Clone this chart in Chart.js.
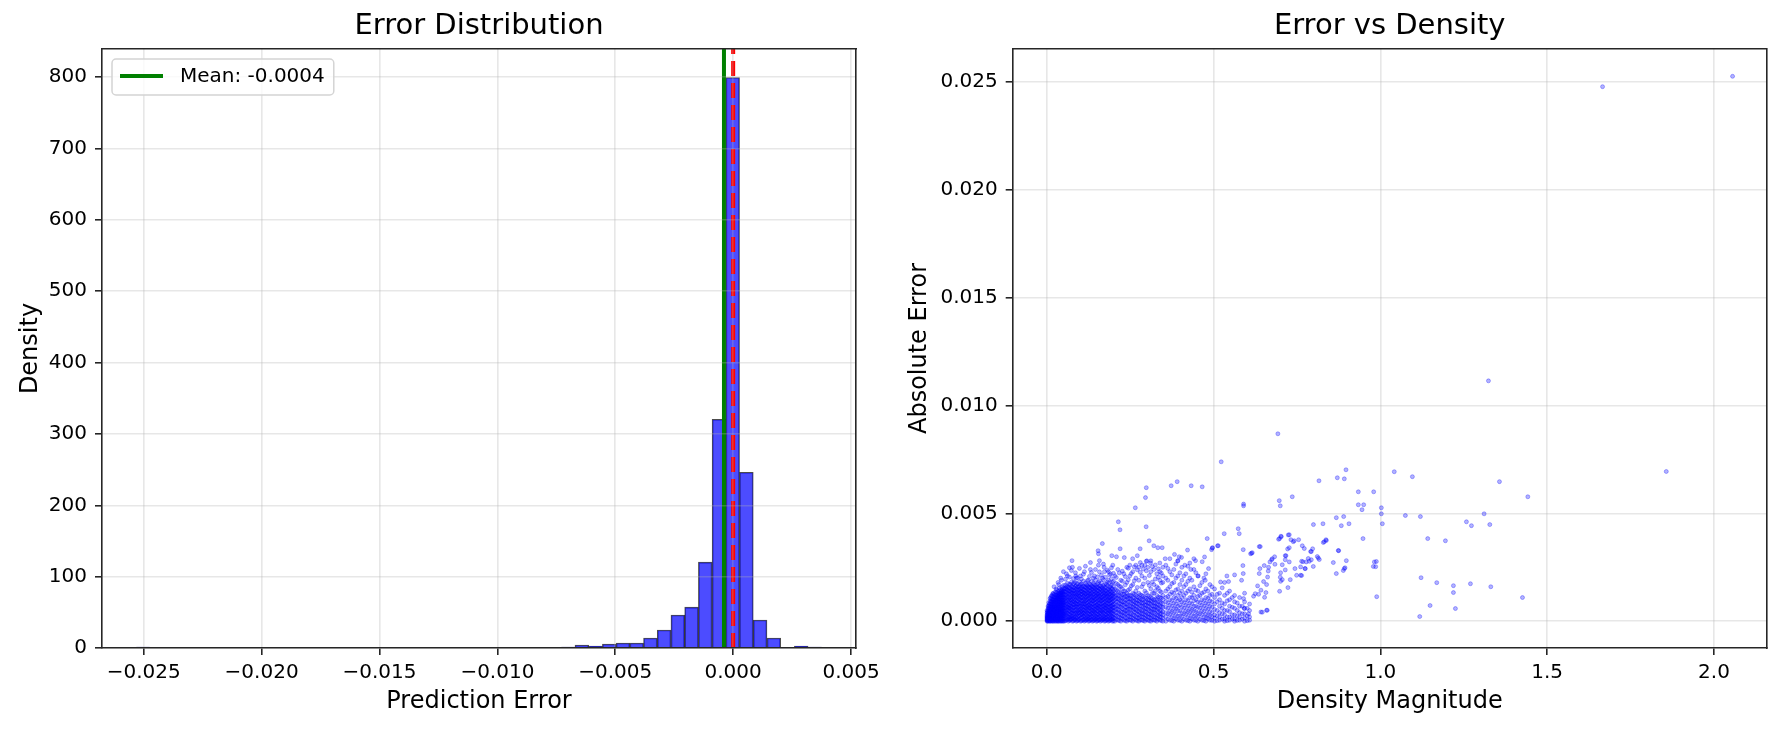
<!DOCTYPE html>
<html>
<head>
<meta charset="utf-8">
<title>Error analysis</title>
<script src="https://cdn.jsdelivr.net/npm/chart.js@4.4.1/dist/chart.umd.min.js"></script>
<style>
  html, body { margin: 0; padding: 0; background: #fff; overflow: hidden; }
  .panel { position: absolute; top: 0; width: 891px; height: 730px; }
</style>
</head>
<body>
<div class="panel" style="left:0"><canvas id="histChart" width="891" height="730"></canvas></div>
<div class="panel" style="left:891px"><canvas id="scatterChart" width="891" height="730"></canvas></div>
<script>
// histogram: 50 bin centres and their density values
var binCenters = [
  -0.0250292, -0.0244476, -0.0238660, -0.0232844, -0.0227028, -0.0221212, -0.0215396, -0.0209580, -0.0203764, -0.0197948,
  -0.0192132, -0.0186316, -0.0180500, -0.0174684, -0.0168868, -0.0163052, -0.0157236, -0.0151420, -0.0145604, -0.0139788,
  -0.0133972, -0.0128156, -0.0122340, -0.0116524, -0.0110708, -0.0104892, -0.0099076, -0.0093260, -0.0087444, -0.0081628,
  -0.0075812, -0.0069996, -0.0064180, -0.0058364, -0.0052548, -0.0046732, -0.0040916, -0.0035100, -0.0029284, -0.0023468,
  -0.0017652, -0.0011836, -0.0006020, -0.0000204, 0.0005612, 0.0011428, 0.0017244, 0.0023060, 0.0028876, 0.0034692
];
var binDensity = [
  1.4, 0, 0, 0, 0, 0, 0, 0, 0, 0,
  0, 0, 0, 0, 0, 0, 0, 0, 0, 0,
  0, 0, 0, 0, 0, 0, 0, 0, 0, 0,
  0, 1.4, 4.2, 2.8, 5.6, 7.0, 7.0, 14.0, 25.2, 46.2,
  57.4, 120.4, 320.6, 799.6, 246.4, 39.2, 14.0, 0, 2.8, 1.4
];
var meanError = -0.00039;
var zeroLine = 0;
var histTicksX = [-0.025, -0.020, -0.015, -0.010, -0.005, 0.000, 0.005];
var histTicksY = [0, 100, 200, 300, 400, 500, 600, 700, 800];

// scatter: [density magnitude, absolute error]
var errorVsDensity = [
  // outliers
  [2.0557, 0.02525], [1.666, 0.02477], [1.324, 0.01114], [0.6928, 0.008688], [0.523, 0.00739], [1.857, 0.00694],
  [1.0417, 0.00693], [1.096, 0.0067], [1.357, 0.00647], [1.442, 0.00577], [1.311, 0.00498], [1.258, 0.00461],
  [1.273, 0.00443], [1.328, 0.00448], [1.142, 0.00383], [1.195, 0.00373], [1.075, 0.0049], [1.12, 0.00485],
  [1.122, 0.00202], [1.169, 0.00179], [1.219, 0.00165], [1.219, 0.00133], [1.27, 0.00174], [1.331, 0.0016],
  [1.426, 0.0011], [1.149, 0.00073], [1.225, 0.00059], [1.118, 0.00022], [0.989, 0.00114],
  // 0.75 - 1.0
  [0.897, 0.00702], [0.871, 0.00665], [0.892, 0.0066], [0.816, 0.00651], [0.934, 0.006], [0.98, 0.006],
  [0.934, 0.0054], [0.95, 0.0054], [0.945, 0.00517], [1.003, 0.00526], [1.003, 0.00498], [1.006, 0.00452],
  [0.7994, 0.00448], [0.828, 0.00452], [0.868, 0.0048], [0.89, 0.00485], [0.906, 0.00452], [0.883, 0.00443],
  [0.948, 0.00383], [0.838, 0.00374], [0.829, 0.00365], [0.772, 0.00337], [0.793, 0.00323], [0.874, 0.00328],
  [0.784, 0.00291], [0.811, 0.003], [0.817, 0.00286], [0.787, 0.00278], [0.764, 0.00278], [0.859, 0.00272],
  [0.898, 0.00281], [0.988, 0.00277], [0.979, 0.00254], [0.982, 0.00275], [0.986, 0.00253], [0.775, 0.00244],
  [0.799, 0.00254], [0.892, 0.00244], [0.889, 0.00235], [0.868, 0.00221], [0.764, 0.00212], [0.894, 0.00248],
  [0.832, 0.00369], [0.837, 0.00378], [0.875, 0.00327], [0.814, 0.00293], [0.791, 0.00323], [0.797, 0.00336],
  // 0.6 - 0.75
  [0.736, 0.00577], [0.697, 0.00559], [0.7, 0.00535], [0.59, 0.00535], [0.59, 0.00543], [0.574, 0.00429],
  [0.577, 0.00406], [0.532, 0.00406], [0.695, 0.0038], [0.702, 0.00394], [0.703, 0.00392], [0.724, 0.004],
  [0.727, 0.00401], [0.732, 0.00378], [0.742, 0.00373], [0.739, 0.00369], [0.755, 0.00378], [0.698, 0.00383],
  [0.766, 0.0035], [0.715, 0.00304], [0.717, 0.00304], [0.722, 0.00335], [0.727, 0.00341], [0.676, 0.0029],
  [0.669, 0.00275], [0.683, 0.00299], [0.674, 0.00285], [0.715, 0.00285], [0.684, 0.00264], [0.768, 0.00276],
  [0.778, 0.00275], [0.727, 0.00275], [0.793, 0.00285], [0.706, 0.00262], [0.652, 0.00258], [0.664, 0.00233],
  [0.665, 0.0025], [0.639, 0.00244], [0.715, 0.00238], [0.701, 0.00225], [0.744, 0.00244], [0.761, 0.00252],
  [0.774, 0.00244], [0.7, 0.00204], [0.706, 0.00193], [0.73, 0.00193], [0.749, 0.00213], [0.761, 0.00213],
  [0.701, 0.00185], [0.723, 0.00156], [0.698, 0.00139], [0.637, 0.00221], [0.662, 0.00205], [0.65, 0.00184],
  [0.659, 0.0017], [0.632, 0.00164], [0.642, 0.00144], [0.625, 0.00128], [0.62, 0.00116], [0.635, 0.00125],
  [0.657, 0.00133], [0.653, 0.00111], [0.59, 0.00105], [0.659, 0.00051], [0.661, 0.00051], [0.642, 0.00043],
  [0.646, 0.00042], [0.605, 0.00035], [0.592, 0.00059], [0.611, 0.00313], [0.614, 0.00315], [0.616, 0.00318],
  [0.637, 0.00346], [0.64, 0.00346], [0.589, 0.00332], [0.588, 0.00258], [0.589, 0.00221],
  // 0.35 - 0.6 upper points
  [0.512, 0.0035], [0.514, 0.0035], [0.521, 0.00182], [0.545, 0.00184], [0.563, 0.00215], [0.54, 0.0021],
  [0.584, 0.0019], [0.373, 0.00628], [0.391, 0.00647], [0.433, 0.00628], [0.466, 0.00623], [0.481, 0.00383],
  [0.494, 0.00332], [0.496, 0.00339], [0.497, 0.00341], [0.383, 0.0031], [0.397, 0.00299], [0.404, 0.00296],
  [0.422, 0.0033], [0.441, 0.0029], [0.446, 0.00281], [0.466, 0.00276], [0.473, 0.00298], [0.485, 0.00244],
  [0.355, 0.0029], [0.393, 0.0028], [0.414, 0.0026], [0.432, 0.0024], [0.454, 0.0021], [0.475, 0.0019],
  // 0.1 - 0.35 upper points
  [0.2984, 0.00619], [0.296, 0.00573], [0.2655, 0.00526], [0.2146, 0.00461], [0.2196, 0.00424], [0.298, 0.00438],
  [0.307, 0.00373], [0.321, 0.0035], [0.333, 0.00341], [0.346, 0.00341], [0.28, 0.00336], [0.22, 0.00336],
  [0.209, 0.00299], [0.2325, 0.00295], [0.2575, 0.0029], [0.2715, 0.00304], [0.3, 0.0028], [0.311, 0.0027],
  [0.1667, 0.0036], [0.154, 0.00327], [0.155, 0.00313], [0.131, 0.00272], [0.158, 0.00281], [0.195, 0.00304],
  [0.172, 0.0025], [0.198, 0.0026], [0.185, 0.0023], [0.068, 0.00248], [0.0758, 0.00281], [0.087, 0.0021]
];

// dense core of the scatter, column by column: [density magnitude, [absolute error in units of 1e-4]]
var denseColumns = [
  [0.001, [0, 0.5, 1, 1.5, 2, 2.5, 3, 4, 5]],
  [0.002, [0.3, 1.2, 2.2, 3.3, 4.4, 0.7, 1.8]],
  [0.004, [0, 1, 2, 3, 4, 5, 6, 7, 1.5, 3.5]],
  [0.006, [0.4, 1.4, 2.6, 3.7, 4.8, 5.9, 7.2, 8.6]],
  [0.008, [0, 1, 2, 3, 4, 5, 6, 7, 8, 0.5, 2.5, 4.5]],
  [0.010, [0.2, 1.3, 2.4, 3.6, 4.7, 5.8, 6.9, 8.1, 9.4, 10.6]],
  [0.012, [0, 1, 2, 3, 4, 5, 6, 7, 8, 9, 1.5, 5.5, 11]],
  [0.014, [0.4, 1.6, 2.7, 3.8, 4.6, 5.7, 6.8, 7.9, 9.2, 10.4, 11.7]],
  [0.016, [0, 1, 2, 3, 4, 5, 6, 7, 8, 9, 10, 0.5, 3.5, 12]],
  [0.018, [0.2, 1.4, 2.3, 3.4, 4.7, 5.6, 6.7, 7.8, 8.9, 10.2, 11.5, 12.8]],
  [0.020, [0, 1, 2, 3, 4, 5, 6, 7, 8, 9, 10, 2.5, 6.5, 13]],
  [0.022, [0.6, 1.7, 2.8, 3.9, 4.4, 5.5, 6.6, 7.7, 8.8, 9.9, 11.2, 12.5, 16]],
  [0.024, [0, 1, 2, 3, 4, 5, 6, 7, 8, 9, 10, 11, 1.5, 4.5]],
  [0.026, [0.3, 1.2, 2.6, 3.5, 4.8, 5.7, 6.4, 7.6, 8.7, 9.8, 10.9, 12.3, 13.6]],
  [0.028, [0, 1, 2, 3, 4, 5, 6, 7, 8, 9, 10, 11, 12, 3.5, 15]],
  [0.030, [0.5, 1.6, 2.4, 3.7, 4.6, 5.9, 6.8, 7.5, 8.6, 9.7, 10.8, 11.9, 13.2, 14.5]],
  [0.032, [0, 1, 2, 3, 4, 5, 6, 7, 8, 9, 10, 11, 12, 0.5, 7.5]],
  [0.034, [0.2, 1.3, 2.7, 3.4, 4.5, 5.4, 6.7, 7.8, 8.9, 10.3, 11.4, 12.6, 13.8, 18]],
  [0.036, [0, 1, 2, 3, 4, 5, 6, 7, 8, 9, 10, 11, 12, 13, 2.5, 17]],
  [0.038, [0.6, 1.5, 2.3, 3.8, 4.9, 5.6, 6.5, 7.4, 8.5, 9.6, 10.7, 11.8, 12.9, 14.2, 15.5]],
  [0.040, [0, 1, 2, 3, 4, 5, 6, 7, 8, 9, 10, 11, 12, 13, 5.5]],
  [0.042, [0.3, 1.7, 2.5, 3.6, 4.4, 5.8, 6.9, 7.7, 8.8, 9.9, 11.3, 12.4, 13.5, 14.8, 20]],
  [0.044, [0, 1, 2, 3, 4, 5, 6, 7, 8, 9, 10, 11, 12, 13, 14, 1.5, 19]],
  [0.046, [0.4, 1.2, 2.8, 3.5, 4.7, 5.5, 6.6, 7.9, 8.6, 9.7, 10.8, 12.2, 13.3, 14.6, 15.9]],
  [0.048, [0, 1, 2, 3, 4, 5, 6, 7, 8, 9, 10, 11, 12, 13, 14, 8.5]],
  [0.050, [0.2, 1.5, 2.6, 3.3, 4.8, 5.9, 6.4, 7.6, 8.7, 9.8, 11.1, 12.5, 13.7, 15.2, 16.6, 23]],
  [0.053, [0, 1, 2.5, 3.5, 5, 6, 7.5, 8.5, 10, 11, 12.5, 14, 15, 4]],
  [0.056, [0.3, 1.8, 3.2, 4.6, 6.2, 7.7, 9.2, 10.6, 12.1, 13.7, 15.3, 16.8, 19.5]],
  [0.059, [0.5, 1.5, 3, 4, 5.5, 7, 8, 9.5, 11, 12, 13.5, 15, 16, 22]],
  [0.062, [0.8, 2.2, 3.7, 5.2, 6.6, 8.1, 9.7, 11.3, 12.8, 14.4, 15.9, 17.6, 21]],
  [0.065, [0, 1, 2, 3.5, 5, 6, 7.5, 9, 10, 11.5, 13, 14, 15.5, 6.5]],
  [0.068, [0.4, 1.7, 3.1, 4.7, 6.1, 7.7, 9.3, 10.8, 12.4, 13.9, 15.6, 17.2, 20.5]],
  [0.071, [0.5, 2, 3, 4.5, 6, 7, 8.5, 10, 11, 12.5, 14, 15, 17, 1]],
  [0.074, [0.9, 2.3, 3.8, 5.3, 6.8, 8.3, 9.9, 11.4, 13.1, 14.6, 16.2, 18.1, 23.5]],
  [0.077, [0, 1.5, 2.5, 4, 5, 6.5, 8, 9, 10.5, 12, 13, 14.5, 16, 25]],
  [0.080, [0.2, 1.6, 3.2, 4.8, 6.3, 7.8, 9.4, 11.1, 12.6, 14.2, 15.8, 17.5, 19.8]],
  [0.083, [0.5, 1, 2, 3.5, 5, 6.5, 7.5, 9, 10, 11.5, 13, 14, 15.5, 18]],
  [0.086, [0.7, 2.1, 3.6, 5.1, 6.7, 8.2, 9.8, 11.4, 12.9, 14.5, 16.1, 17.9, 22.5]],
  [0.089, [0, 1.5, 3, 4, 5.5, 7, 8, 9.5, 11, 12, 13.5, 15, 16.5, 20]],
  [0.092, [0.3, 1.9, 3.4, 4.9, 6.4, 7.9, 9.5, 11.2, 12.7, 14.3, 15.9, 17.4, 20.2]],
  [0.095, [0.5, 1, 2.5, 4, 5, 6.5, 8, 9, 10.5, 12, 13, 14.5, 16]],
  [0.098, [0.8, 2.4, 3.9, 5.4, 6.9, 8.4, 10.1, 11.6, 13.2, 14.8, 16.4, 18.3, 24.5]],
  [0.101, [0, 1.5, 3, 4.5, 5.5, 7, 8.5, 10, 11, 12.5, 14, 15, 17, 21]],
  [0.104, [0.2, 1.7, 3.3, 4.8, 6.3, 7.8, 9.4, 11, 12.6, 14.1, 15.7, 17.3, 19.6]],
  [0.107, [0.5, 2, 3, 4, 5.5, 7, 8, 9.5, 11, 12.5, 13.5, 15, 16.5]],
  [0.110, [0.6, 2.2, 3.7, 5.2, 6.7, 8.3, 9.9, 11.5, 13.1, 14.6, 16.2, 18.6, 21.8]],
  [0.113, [0, 1, 2.5, 4, 5, 6.5, 8, 9, 10.5, 12, 13, 14.5, 16, 23]],
  [0.116, [0.4, 1.8, 3.4, 4.9, 6.4, 8, 9.6, 11.2, 12.8, 14.3, 15.9, 17.7, 25.5]],
  [0.119, [0.5, 1.5, 3, 4.5, 6, 7, 8.5, 10, 11, 12.5, 14, 15.5, 17]],
  [0.122, [0.9, 2.3, 3.8, 5.3, 6.9, 8.5, 10.1, 11.7, 13.3, 14.9, 16.6, 18.9]],
  [0.125, [0, 1, 2, 3.5, 5, 6.5, 7.5, 9, 10.5, 12, 13, 14.5, 16, 19]],
  [0.128, [0.2, 1.6, 3.2, 4.7, 6.2, 7.8, 9.3, 10.9, 12.5, 14, 15.6, 17.2, 20.8]],
  [0.131, [0.5, 2, 3, 4.5, 6, 7, 8.5, 10, 11.5, 12.5, 14, 15.5, 17, 24]],
  [0.134, [0.7, 2.1, 3.6, 5.2, 6.7, 8.2, 9.8, 11.4, 13, 14.6, 16.3, 18.4, 22.6]],
  [0.137, [0, 1, 2.5, 4, 5, 6.5, 8, 9.5, 10.5, 12, 13.5, 15, 16]],
  [0.140, [0.3, 1.9, 3.3, 4.8, 6.4, 7.9, 9.5, 11.1, 12.6, 14.2, 15.8, 17.6, 19.9]],
  [0.143, [0.5, 1.5, 3, 4.5, 5.5, 7, 8.5, 10, 11, 12.5, 14, 15.5, 17, 21]],
  [0.146, [0.8, 2.4, 3.9, 5.5, 7, 8.6, 10.2, 11.8, 13.4, 15, 16.7, 19.1, 24]],
  [0.149, [0, 1, 2, 3.5, 5, 6.5, 7.5, 9, 10.5, 12, 13, 14.5, 16]],
  [0.152, [0.2, 1.7, 3.2, 4.7, 6.3, 7.8, 9.4, 11, 12.5, 14.1, 15.7, 17.3, 20.6]],
  [0.155, [0.5, 2, 3, 4.5, 6, 7, 8.5, 10, 11.5, 12.5, 14, 15.5, 18, 26]],
  [0.158, [0.6, 2.2, 3.7, 5.3, 6.8, 8.4, 10, 11.6, 13.2, 14.8, 16.4, 18.7, 22.9]],
  [0.161, [0, 1, 2.5, 4, 5, 6.5, 8, 9.5, 10.5, 12, 13.5, 15, 16.5]],
  [0.164, [0.4, 1.8, 3.4, 4.9, 6.5, 8, 9.6, 11.2, 12.8, 14.4, 16, 17.8, 21.3]],
  [0.167, [0.5, 1.5, 3, 4.5, 5.5, 7, 8.5, 10, 11, 12.5, 14, 15.5, 20]],
  [0.170, [0.9, 2.3, 3.9, 5.4, 7, 8.5, 10.1, 11.7, 13.3, 14.9, 16.6, 19.3, 26.5]],
  [0.173, [0, 1, 2, 3.5, 5, 6.5, 7.5, 9, 10.5, 12, 13, 14.5, 16, 23]],
  [0.176, [0.2, 1.6, 3.1, 4.7, 6.2, 7.8, 9.3, 10.9, 12.5, 14.1, 15.6, 17.4, 20.4]],
  [0.179, [0.5, 2, 3, 4.5, 6, 7, 8.5, 10, 11.5, 12.5, 14, 17]],
  [0.182, [0.7, 2.1, 3.7, 5.2, 6.8, 8.3, 9.9, 11.5, 13, 14.6, 16.3, 18.2, 23.7]],
  [0.185, [0, 1, 2.5, 4, 5, 6.5, 8, 9.5, 10.5, 12, 13.5, 15, 19]],
  [0.188, [0.3, 1.9, 3.4, 4.9, 6.5, 8, 9.6, 11.2, 12.7, 14.3, 15.9, 17.9, 21.4]],
  [0.191, [0.5, 1.5, 3, 4.5, 5.5, 7, 8.5, 10, 11, 12.5, 14, 16, 22]],
  [0.194, [0.8, 2.4, 3.9, 5.5, 7, 8.6, 10.2, 11.8, 13.4, 15.1, 16.8, 19.7, 24.8]],
  [0.197, [0, 1, 2, 3.5, 5, 6.5, 7.5, 9, 10.5, 12, 13, 15, 18]],
  [0.200, [0.2, 1.7, 3.2, 4.8, 6.3, 7.9, 9.5, 11, 12.6, 14.2, 16.1, 18.5, 22.2]],
  [0.204, [0, 1.5, 3, 5, 6.5, 8, 10, 11.5, 13, 15, 21]],
  [0.2085, [0.8, 2.4, 4, 5.7, 7.3, 9, 10.6, 12.2, 14.5, 17.5, 20.3]],
  [0.213, [0.5, 2, 4, 5.5, 7, 9, 10.5, 12, 14, 17, 24]],
  [0.2175, [0.3, 1.9, 3.5, 5.1, 6.8, 8.4, 10.1, 11.8, 13.6, 16.2, 22.4]],
  [0.222, [0, 1.5, 3, 4.5, 6.5, 8, 9.5, 11, 13, 16, 19]],
  [0.2265, [0.9, 2.5, 4.2, 5.8, 7.5, 9.1, 10.8, 12.5, 15.1, 18.6, 23.2]],
  [0.231, [0.5, 2.5, 4, 5.5, 7.5, 9, 11, 12.5, 14, 22]],
  [0.2355, [0.2, 1.8, 3.4, 5, 6.6, 8.3, 9.9, 11.6, 13.8, 16.9, 20.7]],
  [0.240, [0, 1.5, 3.5, 5, 6.5, 8, 10, 11.5, 13, 18, 25]],
  [0.2445, [0.7, 2.3, 3.9, 5.6, 7.2, 8.9, 10.5, 12.1, 14.4, 19.2, 24.6]],
  [0.249, [0.5, 2, 3.5, 5.5, 7, 9, 10.5, 12, 15, 21, 26]],
  [0.2535, [0.4, 2, 3.6, 5.3, 6.9, 8.6, 10.2, 11.9, 16.4, 22.1]],
  [0.258, [0, 1.5, 3, 5, 6.5, 8, 9.5, 11, 13, 17, 23]],
  [0.2625, [0.9, 2.6, 4.2, 5.8, 7.5, 9.1, 10.8, 12.6, 18.8, 25.2]],
  [0.267, [0.5, 2, 4, 5.5, 7, 8.5, 10, 12, 14, 20, 26]],
  [0.2715, [0.2, 1.7, 3.3, 4.9, 6.6, 8.2, 9.8, 11.4, 15.7, 23.9]],
  [0.276, [0, 1.5, 3, 4.5, 6, 8, 9.5, 11, 13, 19, 25]],
  [0.2805, [0.6, 2.2, 3.8, 5.5, 7.1, 8.8, 10.4, 12.3, 22.7, 27.2]],
  [0.285, [0.5, 2, 3.5, 5, 7, 8.5, 10, 12, 16, 21, 26]],
  [0.2895, [0.3, 1.9, 3.5, 5.2, 6.8, 8.4, 10.1, 11.7, 17.3, 24.2]],
  [0.294, [0, 1.5, 3, 4.5, 6, 7.5, 9, 11, 14, 20, 26]],
  [0.2985, [0.8, 2.5, 4.1, 5.7, 7.4, 9, 10.7, 13.2, 23.4, 27.8]],
  [0.303, [0.5, 2, 3.5, 5.5, 7, 8.5, 10, 12, 18, 25]],
  [0.3075, [0.2, 1.8, 3.4, 5, 6.7, 8.3, 9.9, 11.6, 16.6, 21.2]],
  [0.312, [0, 1.5, 3, 4.5, 6, 8, 9.5, 11, 15, 23, 28]],
  [0.3165, [0.7, 2.3, 3.9, 5.6, 7.2, 8.9, 10.6, 12.9, 18.2, 25.3]],
  [0.321, [0.5, 2, 4, 5.5, 7, 8.5, 10, 13, 17, 24]],
  [0.3255, [0.4, 2, 3.6, 5.3, 6.9, 8.5, 10.2, 14.1, 19.6, 26.1]],
  [0.330, [0, 1.5, 3, 5, 6.5, 8, 10, 12, 16, 22]],
  [0.3345, [0.9, 2.6, 4.2, 5.9, 7.5, 9.2, 11.3, 15.3, 20.4, 24.3]],
  [0.339, [0.5, 2, 3.5, 5, 7, 9, 11, 14, 19, 23, 27]],
  [0.3435, [0.3, 1.9, 3.5, 5.1, 6.8, 8.6, 10.8, 13.4, 17.7, 22.3]],
  [0.348, [0, 1.5, 3, 4.5, 6.5, 8, 10, 12, 18, 21, 25]],
  [0.357, [0, 2, 4, 6.5, 9, 11, 14, 20, 26]],
  [0.363, [1, 3.5, 6, 8.5, 11.5, 15, 19, 24.5]],
  [0.369, [0.5, 3, 5, 7.5, 10, 12.5, 16, 23, 29]],
  [0.375, [0.3, 2.2, 4.5, 7, 9.5, 13.5, 17.5, 21.5]],
  [0.381, [0, 1.5, 4, 6, 8.5, 11, 13, 18, 24]],
  [0.387, [1.2, 3.3, 5.8, 8, 10.5, 14.5, 20, 26.5]],
  [0.393, [0.5, 2.5, 5, 7, 9.5, 12, 15, 21, 28]],
  [0.399, [0.4, 2.4, 4.8, 7.5, 10, 13, 17, 22.5]],
  [0.405, [0, 2, 4, 6.5, 9, 11, 14, 19, 25]],
  [0.411, [1, 3.5, 6, 8.5, 12, 16, 21]],
  [0.417, [0.5, 3, 5, 7.5, 10, 13, 17, 22]],
  [0.423, [0.3, 2.2, 4.5, 7, 9.5, 14, 18.5, 25.5]],
  [0.429, [0, 1.5, 4, 6, 8.5, 11, 15, 20, 27]],
  [0.435, [1.1, 3.2, 5.5, 8, 11, 13.5, 19]],
  [0.441, [0.5, 2.5, 5, 7, 9.5, 12, 16, 24]],
  [0.447, [0.4, 2.5, 4.5, 7, 10, 14.5, 22.5]],
  [0.453, [0, 2, 4, 6.5, 9, 11.5, 14, 21]],
  [0.459, [1, 3.5, 6, 8.5, 12, 16.5]],
  [0.465, [0.5, 3, 5, 7.5, 10, 13, 18]],
  [0.471, [0.3, 2, 4.5, 7, 9.5, 13.5, 20]],
  [0.477, [0, 1.5, 3.5, 6, 8.5, 11, 15, 22]],
  [0.483, [1.2, 3, 5.5, 8, 10.5, 14]],
  [0.489, [0.5, 2.5, 4.5, 7, 9.5, 12, 17]],
  [0.495, [0.4, 2, 4, 6.5, 9, 12.5, 16]],
  [0.503, [0, 1.5, 3, 5.5, 8, 11, 15]],
  [0.511, [0.3, 2.5, 5, 9, 12.5]],
  [0.518, [0.5, 2, 4, 7, 10, 13]],
  [0.526, [1, 3.5, 6, 8.5, 15.5]],
  [0.533, [0, 1, 3, 5, 8, 12, 18]],
  [0.541, [0.3, 2, 5, 9.5, 13]],
  [0.548, [0.5, 2, 4.5, 7, 10, 14]],
  [0.556, [1, 3, 6.5, 11]],
  [0.563, [0, 1, 3, 6, 9, 12]],
  [0.571, [0.4, 2.5, 5, 8.5]],
  [0.578, [0.5, 2, 4, 7, 11]],
  [0.586, [1, 3.5, 7]],
  [0.593, [0, 1.5, 3.5, 6, 9, 13]],
  [0.601, [0.3, 2.5, 6]],
  [0.608, [0.5, 2, 5, 8]]
];
var scatterTicksX = [0, 0.5, 1.0, 1.5, 2.0];
var scatterTicksY = [0, 0.005, 0.010, 0.015, 0.020, 0.025];

var FONT = 'DejaVu Sans';
var SPINE = '#262626';
var GRID = 'rgba(176,176,176,0.3)';

function fixSize(prop, size) {
    return function(scale) { scale[prop] = size; };
}

function setTicks(values) {
    return function(scale) {
        scale.ticks = values.map(function(v) { return {value: v}; });
    };
}

function minusLabel(digits) {
    return function(value) {
        var s = Math.abs(value).toFixed(digits);
        return value < -1e-12 ? '\u2212' + s : s;
    };
}

// main x/y axis with matplotlib-like ticks and spines
function mainAxis(pos, min, max, ticks, digits, title, size, titlePad, gridZ) {
    var horizontal = pos === 'bottom';
    return {
        type: 'linear', position: pos, min: min, max: max, offset: false,
        afterBuildTicks: setTicks(ticks),
        afterFit: fixSize(horizontal ? 'height' : 'width', size),
        grid: {offset: false, color: GRID, lineWidth: 1.6, z: gridZ, tickColor: SPINE, tickWidth: 1.6, tickLength: 7},
        border: {display: true, color: SPINE, width: 1.6, z: 2},
        ticks: {autoSkip: false, maxRotation: 0, padding: horizontal ? 6 : 8, color: '#000',
                font: {family: FONT, size: 20}, callback: minusLabel(digits)},
        title: {display: true, text: title, color: '#000', font: {family: FONT, size: 24}, padding: titlePad}
    };
}

// top and right axes only draw the frame; the top one carries the panel title
function frameAxis(pos, size, title) {
    var axis = {
        type: 'linear', position: pos, display: true, min: 0, max: 1,
        afterFit: fixSize(pos === 'top' ? 'height' : 'width', size),
        grid: {drawOnChartArea: false, drawTicks: false},
        border: {display: true, color: SPINE, width: 1.6, z: 2},
        ticks: {display: false}
    };
    if (title) {
        axis.title = {display: true, text: title, color: '#000', font: {family: FONT, size: 29},
                      padding: {top: 8.6, bottom: 0}};
    }
    return axis;
}

var meanLegend = {
    id: 'meanLegend',
    afterDraw: function(chart) {
        var area = chart.chartArea;
        var ds = chart.data.datasets[1];
        var ctx = chart.ctx;
        ctx.save();
        ctx.font = '20px "' + FONT + '"';
        var textW = ctx.measureText(ds.label).width;
        var x = area.left + 10, y = area.top + 10, w = 68 + textW + 9, h = 36;
        ctx.beginPath();
        if (ctx.roundRect) { ctx.roundRect(x, y, w, h, 4); } else { ctx.rect(x, y, w, h); }
        ctx.fillStyle = 'rgba(255,255,255,0.8)';
        ctx.fill();
        ctx.strokeStyle = '#d4d4d4';
        ctx.lineWidth = 1.5;
        ctx.stroke();
        ctx.beginPath();
        ctx.moveTo(x + 8, y + 17);
        ctx.lineTo(x + 51, y + 17);
        ctx.strokeStyle = ds.borderColor;
        ctx.lineWidth = 4;
        ctx.stroke();
        ctx.fillStyle = '#000';
        ctx.textBaseline = 'middle';
        ctx.fillText(ds.label, x + 68, y + 18);
        ctx.restore();
    }
};

var histMax = 839.6;

new Chart(document.getElementById('histChart'), {
    type: 'bar',
    data: {
        datasets: [{
            type: 'bar',
            label: 'Errors',
            data: binCenters.map(function(c, i) { return {x: c, y: binDensity[i]}; }),
            backgroundColor: 'rgba(0,0,255,0.7)',
            borderColor: 'rgba(0,0,0,0.7)',
            borderWidth: 1,
            barPercentage: 1,
            categoryPercentage: 1,
            order: 3
        }, {
            type: 'line',
            label: 'Mean: ' + meanError.toFixed(4),
            data: [{x: meanError, y: 0}, {x: meanError, y: histMax}],
            borderColor: '#008000',
            borderWidth: 4,
            pointRadius: 0,
            order: 2
        }, {
            type: 'line',
            label: 'Zero',
            data: [{x: zeroLine, y: 0}, {x: zeroLine, y: histMax}],
            borderColor: '#ff0000',
            borderWidth: 4,
            borderDash: [15, 7],
            pointRadius: 0,
            order: 1
        }]
    },
    options: {
        responsive: false,
        animation: false,
        events: [],
        layout: {padding: 0},
        plugins: {legend: {display: false}, title: {display: false}, tooltip: {enabled: false}},
        scales: {
            x: mainAxis('bottom', -0.02677, 0.00521, histTicksX, 3, 'Prediction Error', 82, {top: 0, bottom: 14}, 1),
            y: mainAxis('left', 0, histMax, histTicksY, 0, 'Density', 102, {top: 16, bottom: 0}, 1),
            xTop: frameAxis('top', 49, 'Error Distribution'),
            yRight: frameAxis('right', 35)
        }
    },
    plugins: [meanLegend]
});

var scatterData = errorVsDensity.map(function(p) { return {x: p[0], y: p[1]}; });
denseColumns.forEach(function(col) {
    col[1].forEach(function(e4) { scatterData.push({x: col[0], y: e4 * 1e-4}); });
});

new Chart(document.getElementById('scatterChart'), {
    type: 'scatter',
    data: {
        datasets: [{
            label: 'Error vs Density',
            data: scatterData,
            backgroundColor: 'rgba(0,0,255,0.3)',
            borderColor: 'rgba(0,0,255,0.3)',
            borderWidth: 1,
            pointRadius: 2
        }]
    },
    options: {
        responsive: false,
        animation: false,
        events: [],
        layout: {padding: 0},
        plugins: {legend: {display: false}, title: {display: false}, tooltip: {enabled: false}},
        scales: {
            x: mainAxis('bottom', -0.102, 2.158, scatterTicksX, 1, 'Density Magnitude', 82, {top: 0, bottom: 14}, -1),
            y: mainAxis('left', -0.001238, 0.026516, scatterTicksY, 3, 'Absolute Error', 121.7, {top: 14.2, bottom: 0}, -1),
            xTop: frameAxis('top', 49, 'Error vs Density'),
            yRight: frameAxis('right', 15.3)
        }
    }
});
</script>
</body>
</html>
